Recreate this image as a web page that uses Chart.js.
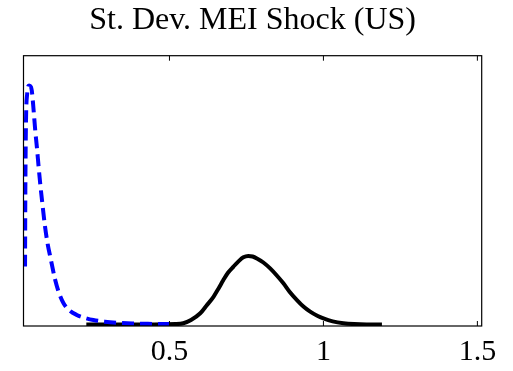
<!DOCTYPE html>
<html>
<head>
<meta charset="utf-8">
<script src="https://cdn.jsdelivr.net/npm/chart.js@4.4.1/dist/chart.umd.min.js"></script>
<style>
html,body{margin:0;padding:0;background:#fff;}
canvas{display:block;}
</style>
</head>
<body>
<canvas id="c" width="513" height="371"></canvas>
<script>
const titleText = "St. Dev. MEI Shock (US)";
const xTicks = [0.5, 1, 1.5];
const xMin = 0.026, xMax = 1.514;

const blueX = [0.031, 0.032, 0.034, 0.038, 0.044, 0.050, 0.053, 0.058, 0.064, 0.070, 0.075, 0.080, 0.086, 0.096, 0.105, 0.113, 0.129, 0.142, 0.156, 0.175, 0.199, 0.225, 0.253, 0.290, 0.329, 0.380, 0.430, 0.500];
const blueY = [0.22, 0.50, 0.75, 0.86, 0.89, 0.885, 0.87, 0.81, 0.725, 0.655, 0.59, 0.53, 0.466, 0.367, 0.30, 0.256, 0.17, 0.12, 0.084, 0.058, 0.041, 0.030, 0.022, 0.016, 0.012, 0.009, 0.008, 0.007];

const blackX = [0.23, 0.35, 0.45, 0.52, 0.545, 0.57, 0.60, 0.62, 0.643, 0.66, 0.675, 0.69, 0.708, 0.725, 0.74, 0.756, 0.77, 0.784, 0.805, 0.827, 0.85, 0.87, 0.89, 0.914, 0.935, 0.957, 0.98, 1.0, 1.03, 1.065, 1.10, 1.14, 1.19];
const blackY = [0.006, 0.006, 0.006, 0.007, 0.010, 0.022, 0.047, 0.075, 0.108, 0.14, 0.17, 0.197, 0.22, 0.24, 0.254, 0.259, 0.257, 0.25, 0.235, 0.213, 0.185, 0.158, 0.127, 0.096, 0.072, 0.053, 0.038, 0.028, 0.017, 0.010, 0.007, 0.006, 0.006];

const toPts = (xs, ys) => xs.map((x, i) => ({x: x, y: ys[i]}));
const serif = '"Liberation Serif", "Times New Roman", Times, serif';

const framePlugin = {
  id: 'frame',
  afterDatasetsDraw(chart) {
    const {ctx, chartArea: a, scales} = chart;
    ctx.save();
    ctx.strokeStyle = '#000';
    ctx.lineWidth = 1.2;
    ctx.strokeRect(a.left, a.top, a.right - a.left, a.bottom - a.top);
    ctx.beginPath();
    xTicks.forEach(t => {
      const px = scales.x.getPixelForValue(t);
      ctx.moveTo(px, a.bottom); ctx.lineTo(px, a.bottom - 5);
      ctx.moveTo(px, a.top); ctx.lineTo(px, a.top + 5);
    });
    ctx.lineWidth = 1;
    ctx.stroke();
    ctx.restore();
  }
};

new Chart(document.getElementById('c'), {
  type: 'line',
  data: {
    datasets: [
      {
        data: toPts(blueX, blueY),
        borderColor: '#0000ff',
        borderWidth: 4,
        borderDash: [12, 6],
        pointRadius: 0,
        cubicInterpolationMode: 'monotone',
        fill: false
      },
      {
        data: toPts(blackX, blackY),
        borderColor: '#000000',
        borderWidth: 4,
        pointRadius: 0,
        cubicInterpolationMode: 'monotone',
        fill: false
      }
    ]
  },
  options: {
    responsive: false,
    animation: false,
    devicePixelRatio: 1,
    layout: {padding: {left: 23.5, right: 31.3, top: 0, bottom: 0}},
    plugins: {
      legend: {display: false},
      tooltip: {enabled: false},
      title: {
        display: true,
        text: titleText,
        color: '#000',
        font: {family: serif, size: 32, weight: 'normal', lineHeight: 1.2},
        padding: {top: 1.5, bottom: 15.8}
      }
    },
    scales: {
      x: {
        type: 'linear',
        min: xMin,
        max: xMax,
        afterBuildTicks: s => { s.ticks = xTicks.map(v => ({value: v})); },
        afterFit: s => { s.height = 45; },
        grid: {display: false, drawTicks: false},
        border: {display: false},
        ticks: {
          color: '#000',
          padding: 8.6,
          maxRotation: 0,
          font: {family: serif, size: 30},
          callback: v => String(v)
        }
      },
      y: {
        type: 'linear',
        display: false,
        min: 0,
        max: 1
      }
    }
  },
  plugins: [framePlugin]
});
</script>
</body>
</html>
